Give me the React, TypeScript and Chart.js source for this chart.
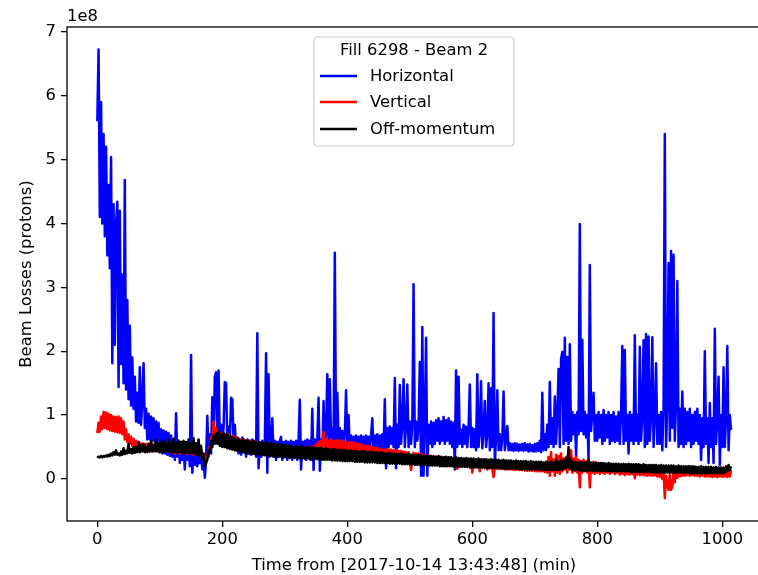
import React, { useEffect, useRef } from "react";
import { Chart, registerables } from "chart.js";

Chart.register(...registerables);

// Time axis (minutes from start), one sample every 2 minutes
const TIME = [
  0, 2, 4, 6, 8, 10, 12, 14, 16, 18,
  20, 22, 24, 26, 28, 30, 32, 34, 36, 38,
  40, 42, 44, 46, 48, 50, 52, 54, 56, 58,
  60, 62, 64, 66, 68, 70, 72, 74, 76, 78,
  80, 82, 84, 86, 88, 90, 92, 94, 96, 98,
  100, 102, 104, 106, 108, 110, 112, 114, 116, 118,
  120, 122, 124, 126, 128, 130, 132, 134, 136, 138,
  140, 142, 144, 146, 148, 150, 152, 154, 156, 158,
  160, 162, 164, 166, 168, 170, 172, 174, 176, 178,
  180, 182, 184, 186, 188, 190, 192, 194, 196, 198,
  200, 202, 204, 206, 208, 210, 212, 214, 216, 218,
  220, 222, 224, 226, 228, 230, 232, 234, 236, 238,
  240, 242, 244, 246, 248, 250, 252, 254, 256, 258,
  260, 262, 264, 266, 268, 270, 272, 274, 276, 278,
  280, 282, 284, 286, 288, 290, 292, 294, 296, 298,
  300, 302, 304, 306, 308, 310, 312, 314, 316, 318,
  320, 322, 324, 326, 328, 330, 332, 334, 336, 338,
  340, 342, 344, 346, 348, 350, 352, 354, 356, 358,
  360, 362, 364, 366, 368, 370, 372, 374, 376, 378,
  380, 382, 384, 386, 388, 390, 392, 394, 396, 398,
  400, 402, 404, 406, 408, 410, 412, 414, 416, 418,
  420, 422, 424, 426, 428, 430, 432, 434, 436, 438,
  440, 442, 444, 446, 448, 450, 452, 454, 456, 458,
  460, 462, 464, 466, 468, 470, 472, 474, 476, 478,
  480, 482, 484, 486, 488, 490, 492, 494, 496, 498,
  500, 502, 504, 506, 508, 510, 512, 514, 516, 518,
  520, 522, 524, 526, 528, 530, 532, 534, 536, 538,
  540, 542, 544, 546, 548, 550, 552, 554, 556, 558,
  560, 562, 564, 566, 568, 570, 572, 574, 576, 578,
  580, 582, 584, 586, 588, 590, 592, 594, 596, 598,
  600, 602, 604, 606, 608, 610, 612, 614, 616, 618,
  620, 622, 624, 626, 628, 630, 632, 634, 636, 638,
  640, 642, 644, 646, 648, 650, 652, 654, 656, 658,
  660, 662, 664, 666, 668, 670, 672, 674, 676, 678,
  680, 682, 684, 686, 688, 690, 692, 694, 696, 698,
  700, 702, 704, 706, 708, 710, 712, 714, 716, 718,
  720, 722, 724, 726, 728, 730, 732, 734, 736, 738,
  740, 742, 744, 746, 748, 750, 752, 754, 756, 758,
  760, 762, 764, 766, 768, 770, 772, 774, 776, 778,
  780, 782, 784, 786, 788, 790, 792, 794, 796, 798,
  800, 802, 804, 806, 808, 810, 812, 814, 816, 818,
  820, 822, 824, 826, 828, 830, 832, 834, 836, 838,
  840, 842, 844, 846, 848, 850, 852, 854, 856, 858,
  860, 862, 864, 866, 868, 870, 872, 874, 876, 878,
  880, 882, 884, 886, 888, 890, 892, 894, 896, 898,
  900, 902, 904, 906, 908, 910, 912, 914, 916, 918,
  920, 922, 924, 926, 928, 930, 932, 934, 936, 938,
  940, 942, 944, 946, 948, 950, 952, 954, 956, 958,
  960, 962, 964, 966, 968, 970, 972, 974, 976, 978,
  980, 982, 984, 986, 988, 990, 992, 994, 996, 998,
  1000, 1002, 1004, 1006, 1008, 1010, 1012, 1014,
];

// Beam losses in units of 1e8 protons
const HORIZONTAL = [
  5.6, 6.72, 4.1, 5.9, 4.0, 5.4, 3.8, 5.2, 3.5, 4.6,
  3.3, 5.04, 1.81, 4.3, 2.1, 4.0, 4.34, 1.44, 4.2, 1.8,
  3.2, 1.5, 4.68, 1.4, 2.8, 1.25, 2.4, 1.15, 1.9, 1.1,
  1.6, 0.9, 1.35, 0.88, 1.75, 0.85, 1.25, 1.81, 0.8, 1.1,
  0.62, 1.02, 0.62, 0.98, 0.6, 0.95, 0.58, 0.9, 0.58, 0.88,
  0.42, 0.78, 0.4, 0.76, 0.4, 0.74, 0.38, 0.72, 0.36, 0.68,
  0.35, 0.62, 0.3, 1.03, 0.35, 0.6, 0.25, 0.58, 0.3, 0.55,
  0.15, 0.55, 0.3, 0.5, 0.2, 1.94, 0.1, 0.48, 0.22, 0.5,
  0.2, 0.45, 0.25, 0.42, 0.15, 0.35, 0.02, 0.3, 0.99, 0.35,
  0.7, 0.4, 1.28, 0.6, 1.6, 1.67, 0.65, 1.7, 0.6, 0.85,
  0.55, 0.8, 1.52, 1.5, 0.6, 0.82, 0.55, 1.27, 1.25, 0.6,
  0.85, 0.45, 0.65, 0.4, 0.62, 0.38, 0.65, 0.42, 0.6, 0.35,
  0.62, 0.4, 0.6, 0.38, 0.62, 0.4, 0.58, 0.35, 2.28, 0.17,
  0.55, 0.35, 0.6, 0.4, 0.55, 1.97, 0.1, 1.64, 0.35, 0.55,
  0.95, 0.35, 0.6, 0.3, 0.58, 0.35, 0.6, 0.66, 0.3, 0.58,
  0.35, 0.6, 0.3, 0.58, 0.35, 0.6, 0.3, 0.58, 0.35, 0.6,
  0.3, 0.6, 1.24, 0.15, 0.58, 0.35, 0.6, 0.3, 0.62, 0.35,
  0.6, 0.3, 1.1, 0.14, 0.62, 0.35, 0.62, 1.27, 0.13, 0.62,
  0.4, 1.22, 0.5, 0.75, 1.64, 0.55, 1.56, 0.6, 0.8, 0.55,
  3.54, 0.6, 1.35, 0.55, 0.8, 0.5, 0.75, 0.5, 0.7, 1.39,
  0.5, 1.0, 0.45, 0.68, 0.42, 0.66, 0.45, 0.68, 0.4, 0.66,
  0.42, 0.68, 0.4, 0.66, 0.45, 0.68, 0.4, 0.66, 0.42, 0.68,
  0.95, 0.4, 0.68, 0.45, 0.7, 0.4, 0.68, 0.45, 0.7, 0.45,
  1.25, 0.17, 0.8, 0.5, 0.82, 0.55, 0.8, 0.5, 1.58, 0.17,
  0.85, 0.5, 1.47, 0.55, 0.88, 1.56, 0.5, 0.85, 1.48, 0.5,
  0.9, 0.55, 0.85, 3.05, 0.5, 0.9, 0.6, 0.85, 1.83, 0.05,
  2.38, 0.05, 0.9, 2.21, 0.05, 0.85, 0.55, 0.9, 0.5, 0.88,
  0.55, 0.92, 0.6, 0.95, 0.55, 0.9, 0.6, 0.97, 0.55, 0.92,
  0.6, 0.95, 0.55, 0.9, 0.5, 0.88, 0.15, 1.7, 0.5, 1.6,
  0.55, 0.77, 0.5, 0.85, 0.55, 0.82, 0.5, 0.8, 1.48, 0.5,
  0.8, 0.5, 0.78, 0.45, 1.64, 0.5, 0.75, 1.53, 0.48, 0.75,
  1.22, 0.5, 0.72, 1.5, 0.45, 1.42, 0.5, 2.6, 0.2, 0.7,
  1.39, 0.45, 0.7, 0.45, 0.65, 1.37, 0.45, 0.6, 0.83, 0.45,
  0.56, 0.45, 0.55, 0.44, 0.56, 0.45, 0.55, 0.44, 0.54, 0.45,
  0.55, 0.44, 0.56, 0.45, 0.54, 0.43, 0.55, 0.44, 0.53, 0.43,
  0.55, 0.43, 0.56, 0.44, 0.6, 0.42, 1.35, 0.45, 0.7, 0.45,
  0.85, 0.5, 1.52, 0.55, 0.95, 0.5, 1.29, 0.55, 1.0, 1.72,
  0.5, 1.88, 1.99, 0.55, 2.21, 0.6, 1.91, 0.55, 2.11, 0.6,
  1.05, 0.7, 1.0, 0.35, 1.05, 0.7, 3.99, 0.75, 2.18, 0.7,
  1.05, 0.65, 1.0, 0.3, 3.35, 0.75, 1.05, 1.35, 0.6, 1.0,
  0.6, 1.05, 0.65, 1.0, 0.55, 1.08, 0.6, 1.0, 0.65, 1.05,
  0.55, 1.0, 0.6, 1.05, 0.58, 0.98, 0.6, 1.05, 0.55, 1.0,
  2.08, 0.55, 2.02, 0.6, 1.0, 0.4, 1.05, 0.6, 1.0, 0.55,
  2.25, 0.6, 1.0, 0.55, 2.07, 0.6, 1.0, 2.17, 0.5, 2.27,
  0.55, 2.23, 0.6, 1.0, 2.22, 0.5, 1.0, 1.81, 0.55, 1.0,
  0.55, 1.05, 0.45, 1.1, 5.4, 0.5, 1.2, 3.38, 0.6, 3.57,
  0.8, 3.51, 0.6, 1.2, 3.1, 0.5, 1.1, 0.55, 1.37, 0.5,
  1.1, 0.55, 1.05, 0.6, 1.1, 0.5, 1.0, 0.55, 1.05, 0.6,
  1.1, 0.55, 1.0, 0.3, 0.95, 0.5, 2.0, 0.55, 0.95, 0.25,
  1.19, 0.5, 0.95, 0.25, 2.35, 0.55, 0.95, 1.6, 0.22, 1.0,
  0.5, 1.75, 0.5, 0.95, 2.08, 0.45, 1.0, 0.77,
];

const VERTICAL = [
  0.72, 0.88, 0.74, 0.98, 0.78, 1.05, 0.8, 1.04, 0.78, 1.02,
  0.76, 1.0, 0.75, 0.98, 0.74, 0.97, 0.73, 0.98, 0.72, 0.95,
  0.7, 0.9, 0.62, 0.78, 0.58, 0.7, 0.55, 0.66, 0.52, 0.63,
  0.5, 0.6, 0.47, 0.58, 0.48, 0.56, 0.45, 0.55, 0.46, 0.55,
  0.45, 0.55, 0.44, 0.56, 0.45, 0.54, 0.43, 0.58, 0.44, 0.55,
  0.44, 0.56, 0.43, 0.55, 0.42, 0.54, 0.43, 0.55, 0.42, 0.53,
  0.42, 0.53, 0.4, 0.54, 0.41, 0.52, 0.4, 0.53, 0.41, 0.52,
  0.4, 0.52, 0.39, 0.51, 0.4, 0.52, 0.38, 0.5, 0.39, 0.5,
  0.38, 0.5, 0.37, 0.45, 0.3, 0.38, 0.25, 0.35, 0.35, 0.48,
  0.5, 0.65, 0.55, 0.9, 0.6, 0.8, 0.58, 0.75, 0.55, 0.72,
  0.52, 0.7, 0.5, 0.68, 0.5, 0.7, 0.48, 0.66, 0.5, 0.68,
  0.48, 0.64, 0.47, 0.63, 0.46, 0.62, 0.46, 0.62, 0.45, 0.6,
  0.45, 0.6, 0.44, 0.6, 0.44, 0.58, 0.43, 0.58, 0.42, 0.57,
  0.42, 0.57, 0.41, 0.56, 0.4, 0.56, 0.4, 0.55, 0.39, 0.54,
  0.39, 0.54, 0.38, 0.53, 0.38, 0.53, 0.37, 0.52, 0.37, 0.52,
  0.36, 0.51, 0.36, 0.51, 0.35, 0.5, 0.35, 0.5, 0.35, 0.5,
  0.35, 0.5, 0.34, 0.5, 0.35, 0.5, 0.34, 0.49, 0.35, 0.5,
  0.36, 0.5, 0.37, 0.52, 0.38, 0.55, 0.4, 0.58, 0.42, 0.6,
  0.45, 0.74, 0.47, 0.62, 0.47, 0.6, 0.46, 0.62, 0.46, 0.6,
  0.45, 0.6, 0.45, 0.61, 0.44, 0.6, 0.44, 0.59, 0.44, 0.58,
  0.43, 0.58, 0.43, 0.57, 0.42, 0.57, 0.42, 0.56, 0.41, 0.55,
  0.41, 0.54, 0.4, 0.53, 0.39, 0.52, 0.38, 0.52, 0.38, 0.5,
  0.36, 0.5, 0.35, 0.48, 0.34, 0.48, 0.33, 0.47, 0.33, 0.46,
  0.33, 0.47, 0.33, 0.46, 0.32, 0.46, 0.32, 0.45, 0.31, 0.45,
  0.3, 0.44, 0.3, 0.44, 0.29, 0.43, 0.29, 0.42, 0.28, 0.42,
  0.28, 0.14, 0.28, 0.41, 0.27, 0.4, 0.27, 0.4, 0.26, 0.39,
  0.26, 0.38, 0.25, 0.38, 0.25, 0.37, 0.25, 0.36, 0.24, 0.36,
  0.24, 0.35, 0.24, 0.35, 0.23, 0.34, 0.23, 0.34, 0.23, 0.33,
  0.22, 0.33, 0.22, 0.32, 0.22, 0.32, 0.18, 0.31, 0.16, 0.31,
  0.21, 0.3, 0.21, 0.3, 0.2, 0.29, 0.2, 0.29, 0.2, 0.28,
  0.1, 0.28, 0.19, 0.28, 0.19, 0.27, 0.12, 0.27, 0.18, 0.26,
  0.18, 0.26, 0.15, 0.26, 0.17, 0.25, 0.17, 0.03, 0.17, 0.25,
  0.16, 0.25, 0.16, 0.24, 0.16, 0.24, 0.15, 0.24, 0.15, 0.23,
  0.15, 0.23, 0.15, 0.23, 0.14, 0.22, 0.14, 0.22, 0.14, 0.22,
  0.14, 0.22, 0.13, 0.21, 0.13, 0.21, 0.13, 0.21, 0.13, 0.21,
  0.12, 0.2, 0.12, 0.2, 0.12, 0.2, 0.12, 0.2, 0.11, 0.2,
  0.1, 0.35, 0.05, 0.42, 0.12, 0.3, 0.05, 0.38, 0.1, 0.36,
  0.08, 0.4, 0.12, 0.32, 0.15, 0.35, 0.1, 0.3, 0.15, 0.45,
  0.1, 0.32, 0.12, 0.35, 0.1, 0.3, -0.13, 0.28, 0.1, 0.3,
  0.12, 0.28, 0.1, 0.3, -0.13, 0.25, 0.1, 0.27, 0.08, 0.25,
  0.1, 0.22, 0.08, 0.22, 0.1, 0.21, 0.08, 0.2, 0.1, 0.2,
  0.08, 0.2, 0.1, 0.2, 0.08, 0.19, 0.1, 0.2, 0.07, 0.19,
  0.08, 0.19, 0.06, 0.19, 0.08, 0.18, 0.07, 0.18, 0.08, 0.18,
  0.01, 0.18, 0.07, 0.18, 0.06, 0.17, 0.07, 0.17, 0.06, 0.17,
  0.05, 0.17, 0.06, 0.16, 0.05, 0.16, 0.06, 0.16, 0.04, 0.16,
  0.03, 0.15, 0.0, 0.12, -0.3, 0.05, -0.1, -0.17, 0.08, -0.17,
  -0.12, 0.12, -0.05, 0.14, 0.02, 0.15, 0.04, 0.15, 0.05, 0.15,
  0.05, 0.15, 0.06, 0.15, 0.05, 0.14, 0.06, 0.15, 0.05, 0.14,
  0.05, 0.14, 0.04, 0.14, 0.05, 0.14, 0.04, 0.13, 0.04, 0.14,
  0.04, 0.13, 0.03, 0.13, 0.04, 0.13, 0.03, 0.13, 0.04, 0.12,
  0.03, 0.12, 0.04, 0.12, 0.03, 0.12, 0.04, 0.14,
];

const OFF_MOMENTUM = [
  0.33, 0.35, 0.34, 0.36, 0.34, 0.36, 0.35, 0.37, 0.35, 0.38,
  0.36, 0.4, 0.37, 0.42, 0.38, 0.45, 0.38, 0.4, 0.37, 0.43,
  0.38, 0.48, 0.39, 0.44, 0.4, 0.55, 0.41, 0.47, 0.4, 0.5,
  0.41, 0.5, 0.42, 0.58, 0.42, 0.52, 0.43, 0.55, 0.42, 0.5,
  0.42, 0.55, 0.43, 0.6, 0.43, 0.52, 0.44, 0.62, 0.43, 0.55,
  0.42, 0.58, 0.43, 0.6, 0.42, 0.55, 0.43, 0.62, 0.42, 0.56,
  0.42, 0.63, 0.42, 0.56, 0.41, 0.6, 0.42, 0.58, 0.41, 0.6,
  0.4, 0.58, 0.41, 0.62, 0.4, 0.55, 0.4, 0.64, 0.4, 0.56,
  0.38, 0.62, 0.36, 0.52, 0.3, 0.4, 0.2, 0.25, 0.3, 0.45,
  0.42, 0.6, 0.5, 0.68, 0.55, 0.72, 0.55, 0.75, 0.52, 0.7,
  0.5, 0.72, 0.5, 0.7, 0.48, 0.68, 0.47, 0.66, 0.46, 0.65,
  0.45, 0.62, 0.44, 0.63, 0.43, 0.6, 0.42, 0.62, 0.41, 0.6,
  0.4, 0.6, 0.4, 0.58, 0.39, 0.6, 0.39, 0.57, 0.38, 0.58,
  0.38, 0.57, 0.37, 0.56, 0.37, 0.57, 0.36, 0.55, 0.36, 0.56,
  0.36, 0.55, 0.35, 0.54, 0.35, 0.55, 0.35, 0.53, 0.34, 0.54,
  0.34, 0.52, 0.34, 0.53, 0.33, 0.52, 0.33, 0.5, 0.33, 0.52,
  0.33, 0.5, 0.32, 0.51, 0.32, 0.5, 0.32, 0.49, 0.32, 0.5,
  0.31, 0.49, 0.31, 0.5, 0.31, 0.48, 0.31, 0.48, 0.3, 0.49,
  0.3, 0.47, 0.3, 0.48, 0.3, 0.47, 0.3, 0.46, 0.29, 0.47,
  0.29, 0.46, 0.29, 0.46, 0.29, 0.45, 0.28, 0.46, 0.28, 0.45,
  0.28, 0.44, 0.28, 0.45, 0.28, 0.44, 0.27, 0.44, 0.27, 0.43,
  0.27, 0.43, 0.27, 0.44, 0.26, 0.43, 0.26, 0.42, 0.26, 0.43,
  0.26, 0.42, 0.26, 0.42, 0.25, 0.41, 0.25, 0.42, 0.25, 0.41,
  0.25, 0.4, 0.25, 0.41, 0.24, 0.4, 0.24, 0.4, 0.24, 0.39,
  0.24, 0.39, 0.24, 0.4, 0.23, 0.39, 0.23, 0.38, 0.23, 0.39,
  0.23, 0.38, 0.23, 0.38, 0.22, 0.37, 0.22, 0.38, 0.22, 0.37,
  0.22, 0.36, 0.22, 0.37, 0.21, 0.36, 0.21, 0.36, 0.21, 0.35,
  0.21, 0.35, 0.21, 0.36, 0.2, 0.35, 0.2, 0.34, 0.2, 0.35,
  0.2, 0.34, 0.2, 0.34, 0.2, 0.33, 0.19, 0.34, 0.19, 0.33,
  0.19, 0.33, 0.19, 0.32, 0.19, 0.33, 0.19, 0.32, 0.18, 0.32,
  0.18, 0.32, 0.18, 0.31, 0.18, 0.32, 0.18, 0.31, 0.18, 0.31,
  0.17, 0.31, 0.17, 0.3, 0.17, 0.31, 0.17, 0.3, 0.17, 0.3,
  0.17, 0.3, 0.17, 0.29, 0.16, 0.3, 0.16, 0.29, 0.16, 0.29,
  0.16, 0.29, 0.16, 0.28, 0.16, 0.29, 0.16, 0.28, 0.15, 0.28,
  0.15, 0.28, 0.15, 0.28, 0.15, 0.27, 0.15, 0.28, 0.15, 0.27,
  0.15, 0.27, 0.15, 0.27, 0.15, 0.27, 0.14, 0.26, 0.14, 0.27,
  0.14, 0.26, 0.14, 0.27, 0.14, 0.26, 0.14, 0.3, 0.14, 0.27,
  0.14, 0.28, 0.15, 0.3, 0.16, 0.32, 0.18, 0.5, 0.16, 0.3,
  0.14, 0.27, 0.14, 0.26, 0.14, 0.26, 0.13, 0.27, 0.13, 0.26,
  0.13, 0.26, 0.13, 0.3, 0.13, 0.26, 0.13, 0.25, 0.13, 0.26,
  0.13, 0.25, 0.13, 0.25, 0.12, 0.25, 0.12, 0.24, 0.12, 0.25,
  0.12, 0.24, 0.12, 0.24, 0.12, 0.24, 0.12, 0.24, 0.12, 0.23,
  0.12, 0.24, 0.12, 0.23, 0.12, 0.24, 0.11, 0.23, 0.11, 0.23,
  0.11, 0.23, 0.11, 0.23, 0.11, 0.22, 0.11, 0.23, 0.11, 0.22,
  0.11, 0.22, 0.11, 0.22, 0.11, 0.22, 0.1, 0.22, 0.1, 0.21,
  0.1, 0.22, 0.1, 0.21, 0.1, 0.21, 0.1, 0.21, 0.1, 0.21,
  0.1, 0.21, 0.1, 0.2, 0.1, 0.21, 0.1, 0.2, 0.1, 0.2,
  0.1, 0.2, 0.1, 0.2, 0.09, 0.2, 0.09, 0.2, 0.09, 0.19,
  0.09, 0.19, 0.09, 0.2, 0.09, 0.19, 0.09, 0.19, 0.09, 0.19,
  0.09, 0.19, 0.09, 0.18, 0.09, 0.19, 0.09, 0.18, 0.09, 0.18,
  0.09, 0.18, 0.1, 0.2, 0.12, 0.22, 0.14, 0.2,
];

const SERIES_LABELS = ["Horizontal", "Vertical", "Off-momentum"];
const SERIES_COLORS = ["#0000ff", "#ff0000", "#000000"];
const LEGEND_TITLE = "Fill 6298 - Beam 2";
const X_TICKS = [0, 200, 400, 600, 800, 1000];
const Y_TICKS = [0, 1, 2, 3, 4, 5, 6, 7];
const X_TITLE = "Time from [2017-10-14 13:43:48] (min)";
const Y_TITLE = "Beam Losses (protons)";
const Y_OFFSET = "1e8";

const FONT = '"DejaVu Sans", "Liberation Sans", sans-serif';
const FS = 16.4;

const decoPlugin = {
  id: "deco",
  afterDraw(chart: any) {
    const { ctx, chartArea: a } = chart;
    ctx.save();
    // spines
    ctx.strokeStyle = "#000";
    ctx.lineWidth = 1.3;
    ctx.strokeRect(a.left, a.top, a.right - a.left, a.bottom - a.top);

    ctx.fillStyle = "#000";
    ctx.font = `${FS}px ${FONT}`;
    // offset text
    ctx.textAlign = "left";
    ctx.textBaseline = "alphabetic";
    ctx.fillText(Y_OFFSET, a.left, a.top - 6);

    // x title
    ctx.textAlign = "center";
    ctx.textBaseline = "middle";
    ctx.fillText(X_TITLE, (a.left + a.right) / 2 - 2, 566);

    // y title
    ctx.save();
    ctx.translate(27, (a.top + a.bottom) / 2);
    ctx.rotate(-Math.PI / 2);
    ctx.fillText(Y_TITLE, 0, 0);
    ctx.restore();

    // legend
    const bx = 314, by = 37, bw = 200, bh = 109, r = 4;
    ctx.beginPath();
    ctx.moveTo(bx + r, by);
    ctx.lineTo(bx + bw - r, by);
    ctx.quadraticCurveTo(bx + bw, by, bx + bw, by + r);
    ctx.lineTo(bx + bw, by + bh - r);
    ctx.quadraticCurveTo(bx + bw, by + bh, bx + bw - r, by + bh);
    ctx.lineTo(bx + r, by + bh);
    ctx.quadraticCurveTo(bx, by + bh, bx, by + bh - r);
    ctx.lineTo(bx, by + r);
    ctx.quadraticCurveTo(bx, by, bx + r, by);
    ctx.closePath();
    ctx.fillStyle = "rgba(255,255,255,0.8)";
    ctx.fill();
    ctx.strokeStyle = "#cccccc";
    ctx.lineWidth = 1.2;
    ctx.stroke();

    ctx.fillStyle = "#000";
    ctx.textAlign = "center";
    ctx.fillText(LEGEND_TITLE, bx + bw / 2, 51);
    const rows = [76, 102, 129];
    ctx.textAlign = "left";
    SERIES_LABELS.forEach((lab, i) => {
      ctx.strokeStyle = SERIES_COLORS[i];
      ctx.lineWidth = 2.5;
      ctx.beginPath();
      ctx.moveTo(320, rows[i]);
      ctx.lineTo(357, rows[i]);
      ctx.stroke();
      ctx.fillStyle = "#000";
      ctx.fillText(lab, 370, rows[i] + 1);
    });
    ctx.restore();
  },
};

export default function App() {
  const ref = useRef<HTMLCanvasElement | null>(null);

  useEffect(() => {
    const canvas = ref.current;
    if (!canvas) return;
    const seriesValues = [HORIZONTAL, VERTICAL, OFF_MOMENTUM];
    const chart = new Chart(canvas, {
      type: "line",
      data: {
        datasets: seriesValues.map((vals, i) => ({
          label: SERIES_LABELS[i],
          data: TIME.map((t, k) => ({ x: t, y: vals[k] })),
          borderColor: SERIES_COLORS[i],
          backgroundColor: SERIES_COLORS[i],
          borderWidth: 2.5,
          borderJoinStyle: "round",
          pointRadius: 0,
          tension: 0,
          fill: false,
          order: 3 - i,
        })),
      },
      options: {
        animation: false,
        responsive: false,
        devicePixelRatio: 1,
        layout: { padding: { top: 27, right: 10, left: 0, bottom: 0 } },
        plugins: { legend: { display: false }, tooltip: { enabled: false } },
        scales: {
          x: {
            type: "linear",
            min: -48.5,
            max: 1068.3,
            afterBuildTicks: (s: any) => {
              s.ticks = X_TICKS.map((v) => ({ value: v }));
            },
            afterFit: (s: any) => {
              s.height = 54;
            },
            grid: {
              drawOnChartArea: false,
              drawTicks: true,
              tickLength: 6,
              color: "#000",
              lineWidth: 1.3,
            },
            border: { display: false },
            ticks: {
              color: "#000",
              font: { family: FONT, size: FS },
              padding: 3,
              maxRotation: 0,
              autoSkip: false,
              callback: (v: any) => String(v),
            },
          },
          y: {
            type: "linear",
            min: -0.657,
            max: 7.074,
            afterBuildTicks: (s: any) => {
              s.ticks = Y_TICKS.map((v) => ({ value: v }));
            },
            afterFit: (s: any) => {
              s.width = 67;
            },
            grid: {
              drawOnChartArea: false,
              drawTicks: true,
              tickLength: 6,
              color: "#000",
              lineWidth: 1.3,
            },
            border: { display: false },
            ticks: {
              color: "#000",
              font: { family: FONT, size: FS },
              padding: 5,
              autoSkip: false,
              callback: (v: any) => String(v),
            },
          },
        },
      },
      plugins: [decoPlugin],
    } as any);
    return () => chart.destroy();
  }, []);

  return (
    <div
      style={{
        position: "fixed",
        left: 0,
        top: 0,
        width: 758,
        height: 575,
        overflow: "hidden",
        background: "#fff",
      }}
    >
      <canvas ref={ref} width={775} height={575} style={{ display: "block" }} />
    </div>
  );
}
